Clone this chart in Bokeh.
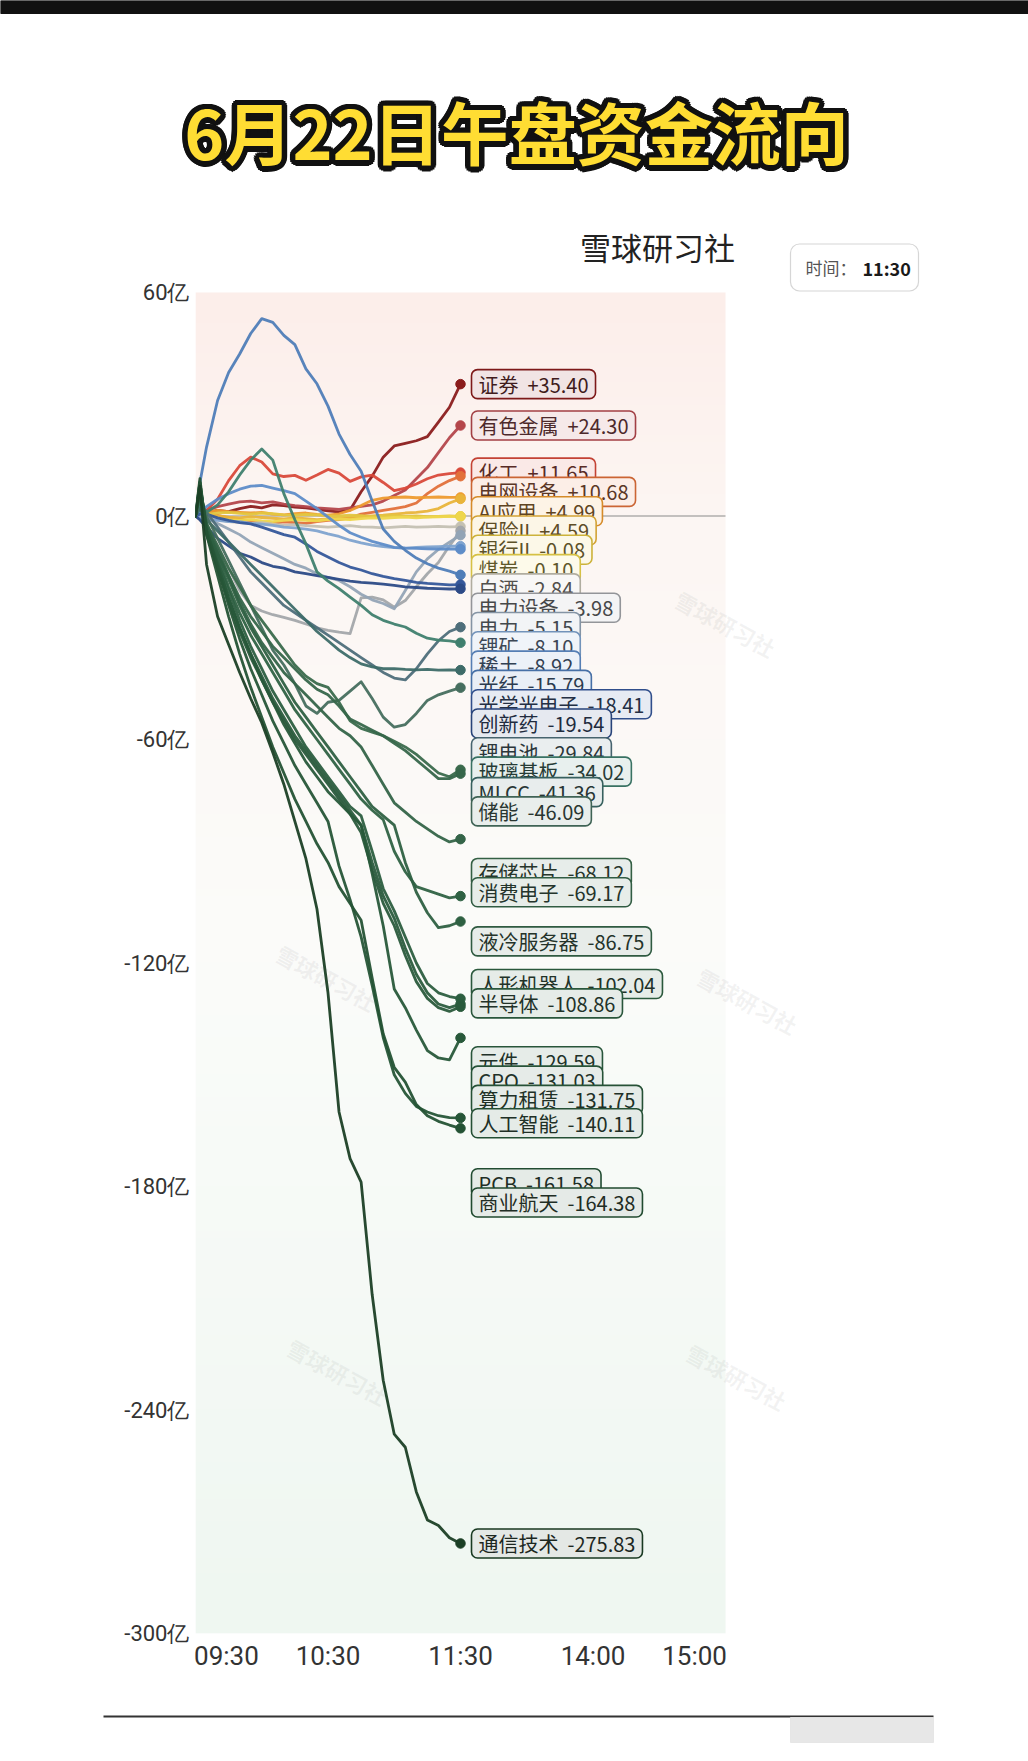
import numpy as np
from bokeh.plotting import figure
from bokeh.models import Range1d, FixedTicker, Label, ColumnDataSource
from bokeh.core.properties import value
from bokeh.embed import file_html
from bokeh.resources import INLINE

# ------------------------------------------------------------------ data
title_text = "6月22日午盘资金流向"
brand_text = "雪球研习社"
clock_caption = "时间："
clock_time = "11:30"

# minutes since 09:30 (trading-session time, lunch break removed)
minutes = [0, 2, 5, 10, 15, 20, 25, 30, 35, 40, 45, 50, 55, 60, 65, 70, 75,
           80, 85, 90, 95, 100, 105, 110, 115, 120]
time_ticks = [0, 60, 120, 180, 240]
time_labels = ["09:30", "10:30", "11:30", "14:00", "15:00"]
flow_ticks = [60, 0, -60, -120, -180, -240, -300]
flow_labels = ["60亿", "0亿", "-60亿", "-120亿", "-180亿", "-240亿", "-300亿"]

# net capital flow per sector (亿元), sampled at `minutes`
sec_zhengquan = [0, 1.5, 1.0, 1.5, 1.2, 2.0, 2.6, 2.2, 3.0, 2.8, 2.4, 2.2, 1.8, 1.4, 1.1, 1.6, 6.5, 10.7, 15.8, 18.8, 19.5, 20.2, 21.3, 25.2, 29.2, 35.40]
sec_youse = [0, 0.8, 1.5, 2.5, 3.2, 3.8, 4.0, 3.5, 3.8, 3.2, 2.8, 2.5, 2.2, 2.0, 1.8, 2.2, 2.6, 3.0, 4.0, 5.5, 7.0, 10.0, 13.0, 17.0, 21.0, 24.30]
sec_huagong = [0, 0.5, 1.5, 4.5, 9.5, 13.5, 15.8, 14.5, 11.3, 10.6, 10.9, 9.6, 11.0, 12.5, 11.5, 9.3, 10.5, 11.0, 9.0, 6.8, 7.5, 8.6, 10.0, 11.0, 11.4, 11.65]
sec_dianwang = [0, 0.3, 0.5, 0.2, -0.5, -1.0, -1.5, -1.8, -2.0, -1.6, -1.8, -2.0, -1.5, -1.2, -1.0, -0.5, 0.5, 1.0, 1.5, 2.0, 2.5, 3.5, 6.0, 8.0, 9.5, 10.68]
sec_aiyy = [0, 0.5, 1.0, 1.5, 1.2, 1.0, 0.8, 1.0, 0.5, 0.3, 0.6, 0.8, 0.4, 0.2, 0.6, 1.5, 2.8, 4.2, 4.8, 5.0, 5.1, 4.9, 5.0, 5.1, 5.0, 4.99]
sec_baoxian = [0, 0.2, 0.3, 0.0, -0.3, -0.5, -0.2, -0.4, -0.6, -0.8, -0.5, -0.7, -1.0, -0.8, -0.6, -0.5, -0.2, 0.0, 0.2, 0.5, 0.8, 1.0, 1.3, 2.0, 3.5, 4.59]
sec_yinhang = [0, 0.2, 0.5, 0.8, 1.0, 0.7, 0.5, 0.8, 0.6, 0.3, 0.2, 0.4, 0.3, 0.1, 0.0, 0.2, 0.1, -0.2, 0.0, 0.1, -0.1, 0.0, -0.2, -0.1, 0.0, -0.08]
sec_meitan = [0, -0.2, -0.5, -0.8, -1.0, -1.2, -1.0, -1.3, -1.5, -1.2, -1.0, -1.2, -1.3, -1.0, -0.8, -1.0, -0.7, -0.5, -0.6, -0.4, -0.3, -0.5, -0.3, -0.2, -0.1, -0.10]
sec_baijiu = [0, -0.3, -0.5, -1.0, -1.5, -1.8, -2.0, -1.8, -2.2, -2.5, -2.3, -2.6, -2.8, -3.0, -2.8, -2.6, -2.9, -3.0, -3.2, -3.0, -2.8, -3.0, -2.9, -2.8, -2.9, -2.84]
sec_dianlishebei = [0, -1, -3, -8, -14, -20, -24, -25.5, -26.5, -27.2, -28, -29, -30, -30.7, -31.2, -31.6, -22, -21.8, -22.5, -24.5, -22.7, -19, -15.5, -12.5, -8, -3.98]
sec_dianli = [0, 0.5, -0.5, -2, -3.5, -5, -7, -8.5, -10, -11.5, -13, -14, -15.5, -16.5, -17.3, -19, -21, -22.5, -23.5, -24.9, -20, -15, -11.5, -9, -7, -5.15]
sec_likuang = [0, -0.5, -1, -1.2, -1.5, -1.5, -2, -2.2, -2.5, -3, -3.2, -3.5, -4, -4.8, -5.5, -6.5, -7.2, -7.8, -8.2, -8.5, -8.6, -8.4, -8.3, -8.2, -8.1, -8.10]
sec_xitu = [0, 1, 2.5, 4.5, 6.0, 7.2, 8.0, 8.2, 7.5, 6.8, 6.0, 4.0, 2.0, -0.3, -2.5, -4.5, -5.7, -6.8, -7.6, -8.4, -8.6, -8.7, -8.8, -8.9, -8.8, -8.92]
sec_guangxian = [0, 9, 18.5, 31, 38.5, 43.5, 49, 53, 52, 48.5, 46, 39.5, 35.5, 29.5, 22, 16.5, 12, 4, -3.5, -6.8, -9.2, -11.3, -12.8, -14, -14.8, -15.79]
sec_guangxue = [0, 0.5, 0.5, -0.5, -1.2, -1.8, -2.1, -3, -4, -5, -5.7, -7.5, -9.5, -11, -12.5, -13.7, -14.5, -15.5, -16.2, -16.8, -17.3, -17.8, -18.1, -18.3, -18.5, -18.41]
sec_chuangxinyao = [0, -1, -3, -6, -8, -10, -11, -12.5, -13.5, -14, -15, -15.5, -16, -16.5, -17, -17.5, -17.8, -18, -18.3, -18.6, -19, -19.2, -19.4, -19.5, -19.6, -19.54]
sec_lidianchi = [0, 4, 1, -3, -7, -11, -15, -18, -21, -24, -26, -28, -30, -32, -34, -36, -38, -40, -42, -43.5, -44, -41, -37, -33.5, -31, -29.84]
sec_boli = [0, 3, 1, 3, 6.5, 11, 15, 18, 15, 6, -1, -7.5, -15, -17.5, -19.5, -21.8, -24, -26.5, -28, -29, -29.8, -31.5, -32.8, -33.3, -33.5, -34.02]
sec_mlcc = [0, 2, -1, -4, -7, -10, -13, -16, -19, -22, -25, -28, -31, -33.5, -36, -38, -39.7, -40.5, -41, -41, -41.2, -41.3, -41.2, -41.4, -41.3, -41.36]
sec_chuneng = [0, 5, 0, -6, -12, -18, -24, -30, -36, -40, -45, -51, -53, -50, -49.5, -47, -44.5, -49, -54, -56.7, -56, -53, -49.5, -48, -47, -46.09]
sec_cunchu = [0, 6, -2, -8, -14, -19, -24, -28, -32, -36, -40, -43, -45, -46, -50, -55, -57, -58, -59, -60.5, -62, -64, -66.5, -69, -70, -68.12]
sec_xiaofei = [0, 5, -3, -10, -16, -22, -27, -31, -35, -38, -41, -44, -46.5, -48, -51, -54.5, -56, -57.5, -59, -61, -63, -65.5, -68, -70.5, -70.5, -69.17]
sec_yeleng = [0, 7, -2, -9, -16, -23, -29, -34, -38, -42, -45, -48, -51, -54, -57, -59, -62, -67, -72, -77, -79.5, -82, -84, -86, -87.5, -86.75]
sec_renxing = [0, 8, -3, -11, -19, -26, -32, -37, -42, -47, -52, -56, -60, -64, -68, -72, -76, -79, -81.5, -90, -95.5, -99.5, -100.5, -101.5, -102.5, -102.04]
sec_bandaoti = [0, 7, -3, -10, -17, -24, -30, -35, -40, -45, -50, -54, -58, -62, -66, -70, -74, -78, -80.5, -83, -93, -101, -106.5, -110.5, -110, -108.86]
sec_yuanjian = [0, 8, -3, -12, -20, -28, -35, -41, -47, -52, -57, -62, -66, -70, -74, -78, -80.5, -90, -100, -106, -113, -120, -125.5, -128, -129, -129.59]
sec_cpo = [0, 9, -4, -13, -22, -30, -37, -43, -49, -54, -59, -63, -67, -71, -75, -79, -83, -93, -102, -108, -116, -123, -128, -131, -132, -131.03]
sec_suanli = [0, 7, -5, -14, -23, -31, -38, -44, -50, -55, -60, -64, -68, -72, -76, -80, -85, -95, -104, -110, -118, -125, -129.5, -132, -133, -131.75]
sec_rengong = [0, 8, -4, -13, -22, -30, -37, -44, -50, -56, -61, -66, -70, -74, -77, -80, -83, -96, -110, -127, -132, -138, -143.5, -145.5, -146, -140.11]
sec_pcb = [0, 9, -4, -14, -24, -33, -41, -48, -55, -61, -67, -72, -77, -82, -94, -103, -113, -126, -140, -150, -155, -158.5, -160, -161, -161.5, -161.58]
sec_shangye = [0, 10, -5, -16, -27, -37, -46, -54, -62, -69, -76, -82, -88, -93, -99.5, -104, -108.5, -124, -139, -148, -152, -158, -161, -162.5, -163.5, -164.38]
sec_tongxin = [0, 8, -13, -27, -34.5, -42, -49, -55.5, -63.5, -72, -82, -92, -105.5, -128, -160, -172.5, -178.8, -209, -232, -246.5, -250, -262, -269.5, -271, -274.3, -275.83]

sectors = ["证券", "有色金属", "化工", "电网设备", "AI应用", "保险II", "银行II", "煤炭",
           "白酒", "电力设备", "电力", "锂矿", "稀土", "光纤", "光学光电子", "创新药",
           "锂电池", "玻璃基板", "MLCC", "储能", "存储芯片", "消费电子", "液冷服务器",
           "人形机器人", "半导体", "元件", "CPO", "算力租赁", "人工智能", "PCB",
           "商业航天", "通信技术"]
flows = [sec_zhengquan, sec_youse, sec_huagong, sec_dianwang, sec_aiyy, sec_baoxian,
         sec_yinhang, sec_meitan, sec_baijiu, sec_dianlishebei, sec_dianli, sec_likuang,
         sec_xitu, sec_guangxian, sec_guangxue, sec_chuangxinyao, sec_lidianchi, sec_boli,
         sec_mlcc, sec_chuneng, sec_cunchu, sec_xiaofei, sec_yeleng, sec_renxing,
         sec_bandaoti, sec_yuanjian, sec_cpo, sec_suanli, sec_rengong, sec_pcb,
         sec_shangye, sec_tongxin]

# ------------------------------------------------------------------ style
palette = ["#8b1c1c", "#b4464b", "#d9493a", "#e2703a", "#ee9a2e", "#e9b43a", "#e3c640",
           "#eed64c", "#c4c0b2", "#a3a6aa", "#93a4b6", "#7fa3cf", "#5e8cc8", "#4f7db8",
           "#35579a", "#2c4a86", "#4e6e7a", "#3f7f6e", "#3d6b68", "#466e5e", "#3a6a4c",
           "#36664a", "#346448", "#2f6243", "#2e6042", "#2c5e40", "#2b5c3e", "#2a5a3c",
           "#28583a", "#265537", "#245234", "#1b3f25"]
CJK = "Noto Sans CJK SC"
NUM = "Roboto"

W = 1028
HEAD_H = 225
FRAME_H = 1408
BOTTOM = 60
MAIN_H = FRAME_H + BOTTOM
FOOT_H = 1761 - HEAD_H - MAIN_H
LEFT = 195
PX_MIN = 530 / 240          # pixels per trading minute
PX_VAL = 1341 / 360         # pixels per 亿
FRAME_X0 = LEFT             # page x of frame left
FRAME_Y0 = HEAD_H           # page y of frame top
Y_TOP = flow_ticks[-1] + FRAME_H / PX_VAL
X_END = (W - LEFT) / PX_MIN


def dx(px):
    return (px - FRAME_X0) / PX_MIN


def dy(py):
    return Y_TOP - (py - FRAME_Y0) / PX_VAL


def mix(c1, c2, t):
    a = [int(c1[i:i + 2], 16) for i in (1, 3, 5)]
    b = [int(c2[i:i + 2], 16) for i in (1, 3, 5)]
    return "#%02x%02x%02x" % tuple(int(round(a[k] * (1 - t) + b[k] * t)) for k in range(3))


def bare(fig):
    fig.grid.visible = False
    fig.outline_line_color = None
    fig.background_fill_color = "white"
    fig.border_fill_color = "white"


# ------------------------------------------------------------------ header
head = figure(width=W, height=HEAD_H, x_range=Range1d(0, W), y_range=Range1d(0, HEAD_H),
              x_axis_location=None, y_axis_location=None, min_border=0,
              output_backend="svg", toolbar_location=None)
bare(head)
head.quad(left=0, right=W, top=HEAD_H, bottom=HEAD_H - 13, color="#111111")

TX, TY = 516, HEAD_H - 130
ang = np.linspace(0, 2 * np.pi, 16, endpoint=False)
ring = ColumnDataSource(dict(x=[TX] * len(ang), y=[TY] * len(ang),
                             t=[title_text] * len(ang),
                             xo=list(5.5 * np.cos(ang)), yo=list(5.5 * np.sin(ang))))
head.text(x="x", y="y", text="t", x_offset="xo", y_offset="yo", source=ring,
          text_font=value(CJK), text_font_style="bold", text_font_size="68px",
          text_color="#111111", text_align="center", text_baseline="middle")
head.text(x=[TX], y=[TY], text=[title_text], text_font=value(CJK),
          text_font_style="bold", text_font_size="68px", text_color="#ffdd33",
          text_align="center", text_baseline="middle")

# ------------------------------------------------------------------ main chart
p = figure(width=W, height=MAIN_H, x_range=Range1d(0, X_END),
           y_range=Range1d(flow_ticks[-1], Y_TOP),
           min_border_left=LEFT, min_border_right=0, min_border_top=0,
           min_border_bottom=BOTTOM, output_backend="svg", toolbar_location=None)
bare(p)

# soft vertical gradient behind the plotting area
stop_v = [flow_ticks[-1], -120, 0, flow_ticks[0]]
stop_c = [(239, 247, 241), (251, 252, 250), (253, 246, 243), (252, 238, 234)]
N = 180
ys = np.linspace(flow_ticks[-1], flow_ticks[0], N)
img = np.empty((N, 1), dtype=np.uint32)
view = img.view(dtype=np.uint8).reshape((N, 1, 4))
for ch in range(3):
    view[:, 0, ch] = np.interp(ys, stop_v, [c[ch] for c in stop_c]).astype(np.uint8)
view[:, 0, 3] = 255
p.image_rgba(image=[img], x=time_ticks[0], y=flow_ticks[-1],
             dw=time_ticks[-1] - time_ticks[0], dh=flow_ticks[0] - flow_ticks[-1])

# faint watermarks
wm_px = [(725, 623), (747, 1000), (326, 977), (337, 1371), (736, 1376)]
p.text(x=[dx(a) for a, b in wm_px], y=[dy(b) for a, b in wm_px], text=[brand_text] * len(wm_px),
       angle=-0.5, text_font=value(CJK), text_font_style="bold", text_font_size="22px",
       text_color="#9a9a9a", text_alpha=0.12, text_align="center", text_baseline="middle")

# zero line
p.line(x=[time_ticks[0], time_ticks[-1]], y=[0, 0], line_color="#8a8a8a", line_width=1)

# series
for name, vals, col in zip(sectors, flows, palette):
    p.line(x=minutes, y=vals, line_color=col, line_width=2.8, line_alpha=0.95,
           line_join="round", line_cap="round")

finals = [v[-1] for v in flows]
p.scatter(x=[minutes[-1]] * len(finals), y=finals, size=9.5, color=palette)

# end labels, pushed apart where they would collide
gap = 19.3 / PX_VAL
keep = 0.75
order = sorted(range(len(finals)), key=lambda i: -finals[i])
label_y = [0.0] * len(finals)
prev = None
for i in order:
    v = finals[i]
    if prev is None:
        label_y[i] = v
    else:
        pv, pp = finals[prev], label_y[prev]
        k = keep if pp < pv - 1e-9 else 1.0
        label_y[i] = min(pp - max(gap, k * (pv - v)), v)
    prev = i

SP = "\u00a0\u00a0"
for i in order:
    col = palette[i]
    p.add_layout(Label(x=minutes[-1], y=label_y[i], x_offset=11,
                       text=f"{sectors[i]}{SP}{finals[i]:+.2f}",
                       text_font=CJK, text_font_size="20px",
                       text_color=mix(col, "#1c1c1c", 0.68),
                       text_align="left", text_baseline="middle",
                       background_fill_color=mix(col, "#ffffff", 0.88),
                       background_fill_alpha=1.0,
                       border_line_color=mix(col, "#000000", 0.1),
                       border_line_width=1.6, border_radius=6,
                       padding=dict(left=7, right=7, top=0, bottom=0)))

# brand and clock
p.text(x=[dx(657)], y=[dy(246)], text=[brand_text], text_font=value(CJK),
       text_font_size="31px", text_color="#222222", text_align="center",
       text_baseline="middle")
p.add_layout(Label(x=dx(790), y=dy(267), text=clock_caption, text_font=CJK,
                   text_font_size="17px", text_color="#555555", text_align="left",
                   text_baseline="middle", background_fill_color="white",
                   background_fill_alpha=1.0, border_line_color="#d6d6d6",
                   border_line_width=1.2, border_radius=9,
                   padding=dict(left=15, right=62, top=11, bottom=11)))
p.add_layout(Label(x=dx(862), y=dy(267), text=clock_time, text_font=CJK,
                   text_font_size="18px", text_font_style="bold", text_color="#1a1a1a",
                   text_align="left", text_baseline="middle"))

# axes
edge = round(30 / PX_MIN)
x_tick_pos = [time_ticks[0] + edge] + time_ticks[1:-1] + [time_ticks[-1] - edge]
p.xaxis.ticker = FixedTicker(ticks=x_tick_pos)
p.xaxis.major_label_overrides = dict(zip(x_tick_pos, time_labels))
p.yaxis.ticker = FixedTicker(ticks=flow_ticks)
p.yaxis.major_label_overrides = dict(zip(flow_ticks, flow_labels))
for ax in (p.xaxis, p.yaxis):
    ax.axis_line_color = None
    ax.major_tick_line_color = None
    ax.minor_tick_line_color = None
    ax.major_label_text_color = "#333333"
    ax.major_label_text_font = NUM
p.xaxis.major_label_text_font_size = "26px"
p.xaxis.major_label_standoff = 1
p.yaxis.major_label_text_font_size = "22px"
p.yaxis.major_label_standoff = 0

# ------------------------------------------------------------------ footer
foot = figure(width=W, height=FOOT_H, x_range=Range1d(0, W), y_range=Range1d(0, FOOT_H),
              x_axis_location=None, y_axis_location=None, min_border=0,
              output_backend="svg", toolbar_location=None)
bare(foot)
rule_y = FOOT_H - (1716 - HEAD_H - MAIN_H)
foot.line(x=[103, 933], y=[rule_y, rule_y], line_color="#333333", line_width=2)
foot.quad(left=790, right=933, top=rule_y - 1, bottom=rule_y - 26, color="#e4e4e4",
          alpha=0.9)

open("out.html", "w").write(file_html([head, p, foot], INLINE))
